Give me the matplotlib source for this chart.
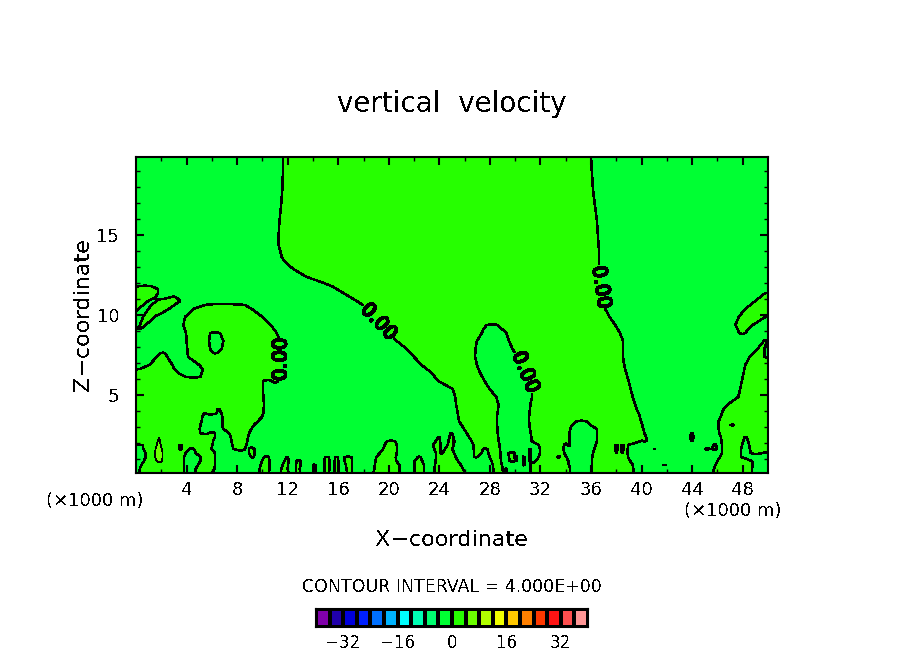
import numpy as np
import matplotlib
matplotlib.use("Agg")
import matplotlib.pyplot as plt
import matplotlib.patheffects as pe
from matplotlib.colors import ListedColormap, BoundaryNorm

W, H = 904, 654
plt.rcParams['font.family'] = ['DejaVu Sans']
plt.rcParams['text.antialiased'] = False

TITLE = "vertical  velocity"
XLABEL = "X\u2212coordinate"
YLABEL = "Z\u2212coordinate"
UNIT = "(\u00d71000 m)"
INTERVAL = "CONTOUR INTERVAL = 4.000E+00"

x_major = [4, 8, 12, 16, 20, 24, 28, 32, 36, 40, 44, 48]
z_major = [5, 10, 15]
bar_ticks = [-32, -16, 0, 16, 32]
bar_levels = list(range(-40, 41, 4))
bar_colors = ['#8000aa', '#2000aa', '#0000dc', '#0020ff', '#0070ff',
              '#00b4ff', '#00ffff', '#00ffb4', '#00ff70', '#00ff33',
              '#26ff00', '#6cff00', '#b0ff00', '#f0ff00', '#ffc800',
              '#ff8000', '#ff3800', '#ff1414', '#ff5050', '#ff9696']

z_rows = [0.125, 0.375, 0.625, 0.875, 1.125, 1.375, 1.625, 1.875, 2.125, 2.375, 2.625, 2.875,
          3.125, 3.375, 3.625, 3.875, 4.125, 4.375, 4.875, 5.375, 5.875, 6.125, 6.375, 6.625, 6.875, 7.375,
          7.625, 7.875, 8.375, 8.875, 9.125, 9.375, 9.875, 10.375, 10.625, 10.875, 11.125, 11.375,
          11.625, 11.8, 12.125, 12.375, 12.625, 12.875, 13.125, 13.375, 13.625, 13.875, 14.375,
          14.875, 15.875, 16.875, 17.875, 18.875, 19.875]
left_sign = [-1, -1, -1, -1, -1, -1, -1, -1, 1, 1, 1, 1,
             1, 1, 1, 1, 1, 1, 1, 1, 1, 1, 1, -1, -1, -1,
             -1, -1, -1, -1, -1, -1, -1, 1, 1, 1, 1, 1,
             1, -1, -1, -1, -1, -1, -1, -1, -1, -1, -1,
             -1, -1, -1, -1, -1, -1]
zero_crossings = [
    [0.25, 3.8, 4.67, 6.0, 9.74, 10.53, 11.45, 12.08, 12.66, 12.98, 14.0, 14.2, 14.95, 15.25, 15.72, 16.0, 16.7, 17.1, 18.79, 20.84, 22.03, 22.8, 23.6, 26.04, 28.29, 29.05, 29.2, 29.35, 31.2, 34.35, 36.07, 39.37, 45.65, 48.73],
    [0.3, 3.8, 4.72, 6.2, 9.77, 10.55, 11.5, 12.0, 12.66, 12.95, 14.0, 14.2, 14.9, 15.3, 15.72, 16.0, 16.66, 17.1, 18.85, 20.84, 22.03, 22.8, 23.62, 25.88, 28.27, 29.0, 29.2, 29.35, 31.2, 34.35, 36.07, 39.35, 45.73, 48.73],
    [0.42, 3.8, 4.9, 6.25, 9.87, 10.55, 11.6, 12.02, 12.66, 13.03, 14.03, 14.2, 14.9, 15.3, 15.72, 16.0, 16.6, 17.1, 18.9, 20.84, 22.03, 22.78, 23.65, 25.7, 28.23, 28.95, 30.6, 30.72, 31.2, 34.25, 36.07, 39.3, 41.72, 41.88, 45.85, 48.8],
    [0.63, 3.8, 5.1, 6.25, 9.97, 10.55, 11.75, 12.1, 12.7, 13.03, 14.9, 15.3, 15.72, 16.0, 16.5, 17.1, 18.95, 20.6, 22.03, 22.65, 23.7, 25.47, 28.13, 28.87, 29.57, 30.0, 30.03, 30.13, 30.6, 30.72, 31.15, 31.25, 31.65, 34.2, 36.07, 39.1, 46.0, 48.75],
    [0.76, 3.8, 5.1, 6.25, 9.1, 9.35, 10.13, 10.53, 11.9, 12.0, 14.95, 15.25, 15.75, 15.97, 16.5, 17.05, 19.0, 20.55, 22.3, 22.5, 23.75, 25.3, 26.75, 27.0, 27.97, 28.85, 29.5, 29.95, 30.03, 30.13, 30.6, 30.72, 31.15, 31.25, 31.85, 33.3, 33.55, 34.05, 36.1, 38.92, 46.2, 47.86],
    [0.76, 3.93, 4.72, 6.25, 8.93, 9.36, 19.3, 20.63, 23.72, 24.1, 24.25, 25.17, 26.73, 27.35, 27.87, 28.83, 29.48, 29.97, 31.15, 31.25, 31.95, 33.88, 36.15, 37.98, 38.03, 38.45, 38.5, 38.9, 46.36, 47.86, 48.62, 49.6],
    [0.58, 3.43, 3.6, 4.2, 4.6, 5.96, 7.7, 8.63, 8.93, 9.36, 19.55, 20.63, 23.6, 24.09, 24.45, 25.03, 26.72, 27.44, 27.81, 28.8, 31.15, 31.25, 31.95, 33.83, 36.25, 37.92, 38.1, 38.36, 38.58, 38.9, 41.02, 41.06, 45.0, 45.35, 45.55, 45.93, 46.37, 47.88, 48.57],
    [0.53, 3.43, 3.6, 6.05, 7.63, 8.73, 19.67, 20.63, 23.5, 24.08, 24.65, 25.12, 26.7, 28.75, 31.85, 33.85, 34.15, 34.35, 36.37, 37.92, 38.1, 38.36, 38.58, 38.95, 45.7, 45.9, 46.36, 47.95, 48.5],
    [6.1, 7.55, 8.8, 19.85, 20.5, 23.72, 24.06, 24.72, 25.12, 26.55, 28.7, 31.3, 34.28, 36.47, 39.95, 40.1, 40.42, 43.95, 44.0, 46.32, 48.05, 48.43],
    [6.25, 7.5, 8.87, 23.93, 24.0, 24.8, 25.12, 26.35, 28.65, 31.27, 34.28, 36.47, 40.35, 43.82, 44.15, 46.28, 48.15, 48.3],
    [5.07, 5.78, 6.25, 7.36, 8.95, 24.85, 25.0, 26.15, 28.62, 31.22, 34.3, 36.47, 40.22, 43.95, 44.0, 46.15],
    [5.04, 6.9, 9.13, 25.95, 28.6, 31.17, 34.35, 36.47, 40.13, 46.1],
    [5.1, 6.83, 9.34, 25.75, 28.57, 31.13, 34.5, 35.95, 40.05, 46.1, 47.05, 47.3],
    [5.2, 6.83, 9.66, 25.55, 28.55, 31.1, 34.9, 35.6, 39.95, 46.1],
    [5.25, 6.83, 9.97, 25.5, 28.55, 31.1, 39.87, 46.25],
    [5.4, 5.5, 6.41, 6.75, 10.08, 25.45, 28.6, 31.13, 39.75, 46.35],
    [6.45, 6.6, 10.1, 25.4, 28.65, 31.17, 39.6, 46.5],
    [10.13, 25.33, 28.68, 31.2, 39.5, 46.76],
    [10.08, 25.25, 28.5, 31.33, 39.3, 47.65],
    [10.03, 25.07, 27.97, 31.3, 39.13, 47.8],
    [10.03, 10.75, 11.3, 23.9, 27.57, 31.1, 38.97, 47.93],
    [3.95, 5.1, 11.35, 23.65, 27.4, 31.0, 38.88, 48.0],
    [3.35, 5.2, 11.4, 23.4, 27.23, 30.87, 38.8, 48.07],
    [0.3, 3.03, 5.28, 11.43, 23.0, 27.1, 30.67, 38.7, 48.13],
    [1.05, 2.88, 5.0, 11.45, 22.6, 26.97, 30.47, 38.63, 48.2],
    [1.64, 2.48, 4.14, 11.45, 22.0, 26.83, 30.2, 38.52, 48.55, 49.73],
    [1.95, 2.3, 4.08, 6.1, 6.45, 11.45, 21.7, 26.84, 30.0, 38.52, 48.85, 49.72],
    [4.06, 5.86, 6.78, 11.45, 21.42, 26.86, 29.78, 38.52, 49.18, 49.72],
    [4.0, 5.78, 6.91, 11.4, 20.63, 26.97, 29.52, 38.52, 49.62, 49.92],
    [3.96, 5.86, 6.65, 11.13, 20.03, 27.36, 29.3, 38.3, 47.7, 48.2],
    [0.08, 0.4, 3.85, 10.9, 19.75, 27.5, 28.95, 38.1, 47.6, 48.45],
    [0.32, 0.79, 3.75, 10.66, 19.45, 27.75, 28.6, 37.92, 47.42, 48.8],
    [0.55, 1.48, 3.88, 10.0, 18.84, 37.47, 47.68, 49.78],
    [0.16, 0.98, 2.6, 4.54, 9.16, 18.2, 37.13, 48.2],
    [0.58, 1.2, 3.03, 5.46, 8.63, 17.94, 37.1, 48.6],
    [0.95, 1.64, 3.5, 17.47, 37.13, 48.99],
    [1.56, 2.8, 3.15, 16.94, 37.08, 49.39],
    [1.74, 16.41, 36.87, 49.78],
    [1.74, 15.88, 36.83],
    [0.2, 1.2, 15.5, 36.8],
    [14.43, 36.75],
    [13.5, 36.7],
    [12.98, 36.66],
    [12.45, 36.63],
    [12.06, 36.63],
    [11.74, 36.63],
    [11.53, 36.63],
    [11.45, 36.63],
    [11.29, 36.6],
    [11.27, 36.55],
    [11.35, 36.47],
    [11.48, 36.3],
    [11.58, 36.15],
    [11.62, 36.07],
    [11.65, 36.0],
]
z4_rows = {0.875: [1.65, 2.05], 1.125: [1.5, 2.1], 1.375: [1.5, 2.1],
           1.625: [1.55, 2.05], 1.875: [1.65, 1.95], 2.125: [1.75, 1.88]}
label_spots = [(11.4, 7.22), (19.1, 9.5), (30.55, 6.3), (36.85, 11.75)]

x_km = np.linspace(0, 50, 1001)


def row_values(crossings, start):
    cuts = np.array(crossings)
    flips = np.searchsorted(cuts, x_km)
    sign = start * (-1.0) ** flips
    gap = np.abs(x_km[:, None] - cuts[None, :]).min(axis=1)
    return sign * gap


w = np.array([np.clip(row_values(c, s), -3.9, 3.9) for c, s in zip(zero_crossings, left_sign)])
for z_val, pair in z4_rows.items():
    i = z_rows.index(z_val)
    w[i] = np.maximum(w[i], 4 + np.clip(8 * row_values(pair, -1), -8, 2))


def box(l, t, r, b):
    return [l / W, 1 - b / H, (r - l) / W, (b - t) / H]


def put(px, py, s, **kw):
    fig.text(px / W, 1 - py / H, s, ha=kw.pop('ha', 'center'), va=kw.pop('va', 'center'), color='black', **kw)


fig = plt.figure(figsize=(W / 100, H / 100), dpi=100, facecolor='white')
ax = fig.add_axes(box(136, 157, 768, 473))
level_edges = [-4, 0, 4, 8]
fill_cols = [bar_colors[9], bar_colors[10], bar_colors[11]]
ax.contourf(x_km, z_rows, w, levels=level_edges, colors=fill_cols, antialiased=False)
cs = ax.contour(x_km, z_rows, w, levels=[0, 4], colors='black', linewidths=[1.1, 0.5], antialiased=False)
labs = ax.clabel(cs, levels=[0], fmt='%.2f', manual=label_spots, fontsize=14, inline=True, inline_spacing=1, colors='black')
for lab in labs:
    lab.set_path_effects([pe.withStroke(linewidth=0.7, foreground='black')])

ax.set_xlim(0, 50)
ax.set_ylim(0.125, 19.875)
ax.set_xticks(x_major)
ax.set_xticks(np.arange(2, 50, 2), minor=True)
ax.set_yticks(z_major)
ax.set_yticks(np.arange(1, 20), minor=True)
ax.tick_params(which='major', direction='in', length=6, width=1.5, top=True, right=True, labelsize=13, pad=6)
ax.tick_params(which='minor', direction='in', length=3, width=1, top=True, right=True)
ax.tick_params(axis='y', pad=12)
for sp in ax.spines.values():
    sp.set_linewidth(1.5)

put(452, 104, TITLE, fontsize=20)
put(452, 540, XLABEL, fontsize=16)
put(83, 315, YLABEL, fontsize=16, rotation=90)
put(95, 501, UNIT, fontsize=13)
put(733, 511, UNIT, fontsize=13)
put(452, 587, INTERVAL, fontsize=12.5)

cax = fig.add_axes(box(316, 609, 588, 627))
cmap = ListedColormap(bar_colors)
norm = BoundaryNorm(bar_levels, cmap.N)
cax.pcolormesh(bar_levels, [0, 1], np.array([[(a + b) / 2 for a, b in zip(bar_levels[:-1], bar_levels[1:])]]), cmap=cmap, norm=norm, edgecolors='black', linewidth=1.5)
cax.set_yticks([])
cax.set_xticks(bar_ticks)
cax.set_xticklabels(["\u2212" + str(-t) if t < 0 else str(t) for t in bar_ticks])
cax.tick_params(axis='x', length=0, labelsize=12, pad=5)
for sp in cax.spines.values():
    sp.set_linewidth(1.5)

fig.savefig('out.png', dpi=100)
